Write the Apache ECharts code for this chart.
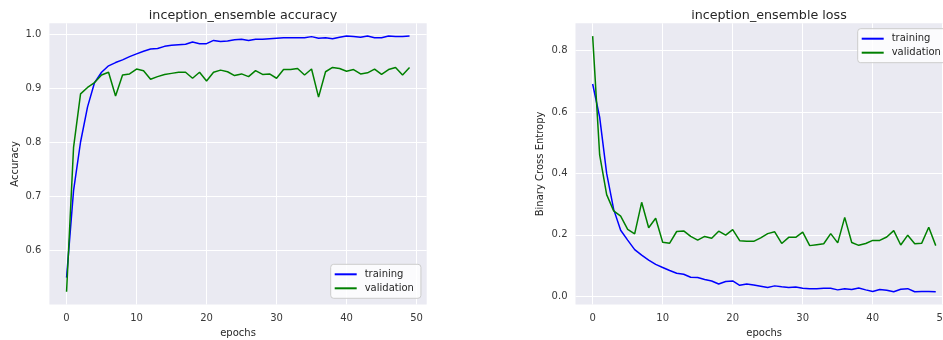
<!DOCTYPE html>
<html>
<head>
<meta charset="utf-8">
<script src="https://cdn.jsdelivr.net/npm/echarts@6/dist/echarts.min.js"></script>
<style>
  html, body { margin: 0; padding: 0; background: #ffffff; }
  #chart { width: 943px; height: 340px; }
</style>
</head>
<body>
<div id="chart"></div>
<script>
// Per-epoch training history of the inception ensemble model
const accTraining = [
  0.549, 0.71, 0.80, 0.865, 0.910, 0.929, 0.941, 0.947, 0.952, 0.958,
  0.963, 0.968, 0.972, 0.973, 0.977, 0.979, 0.980, 0.981, 0.985, 0.982,
  0.982, 0.988, 0.986, 0.987, 0.989, 0.990, 0.988, 0.990, 0.990, 0.991,
  0.992, 0.993, 0.993, 0.993, 0.993, 0.995, 0.992, 0.993, 0.991, 0.994,
  0.996, 0.995, 0.994, 0.996, 0.993, 0.993, 0.996, 0.995, 0.995, 0.996
];
const accValidation = [
  0.523, 0.79, 0.889, 0.901, 0.910, 0.924, 0.929, 0.885, 0.924, 0.926,
  0.935, 0.932, 0.916, 0.921, 0.925, 0.927, 0.929, 0.929, 0.918, 0.929,
  0.913, 0.929, 0.933, 0.930, 0.923, 0.926, 0.921, 0.932, 0.925, 0.926,
  0.918, 0.934, 0.934, 0.936, 0.924, 0.935, 0.883, 0.930, 0.938, 0.936,
  0.931, 0.934, 0.926, 0.928, 0.935, 0.925, 0.934, 0.938, 0.924, 0.938
];
const lossTraining = [
  0.691, 0.583, 0.40, 0.283, 0.215, 0.183, 0.152, 0.134, 0.118, 0.104,
  0.094, 0.084, 0.075, 0.072, 0.062, 0.061, 0.055, 0.050, 0.040, 0.048,
  0.050, 0.036, 0.040, 0.037, 0.033, 0.029, 0.034, 0.031, 0.029, 0.030,
  0.026, 0.025, 0.025, 0.026, 0.026, 0.021, 0.025, 0.022, 0.027, 0.021,
  0.016, 0.022, 0.020, 0.015, 0.023, 0.025, 0.015, 0.016, 0.016, 0.015
];
const lossValidation = [
  0.847, 0.46, 0.331, 0.278, 0.261, 0.218, 0.203, 0.306, 0.223, 0.254,
  0.176, 0.173, 0.211, 0.213, 0.195, 0.183, 0.195, 0.189, 0.212, 0.199,
  0.217, 0.181, 0.179, 0.179, 0.190, 0.204, 0.210, 0.172, 0.192, 0.192,
  0.209, 0.165, 0.168, 0.171, 0.204, 0.174, 0.257, 0.175, 0.166, 0.172,
  0.182, 0.182, 0.193, 0.214, 0.167, 0.199, 0.171, 0.173, 0.225, 0.165
];
const xTicks = [0, 10, 20, 30, 40, 50];
const accTicks = [0.6, 0.7, 0.8, 0.9, 1.0];
const lossTicks = [0.0, 0.2, 0.4, 0.6, 0.8];
const seriesNames = ['training', 'validation'];
const titles = ['inception_ensemble accuracy', 'inception_ensemble loss'];
const yNames = ['Accuracy', 'Binary Cross Entropy'];
const xName = 'epochs';

const FONT = 'DejaVu Sans';
const TEXT = '#262626';
const TICK_TEXT = '#3a3a3a';

// padded extent: data range plus 5% on each side
function padded(arrays) {
  const all = [].concat(...arrays);
  const lo = Math.min(...all), hi = Math.max(...all);
  const m = (hi - lo) * 0.05;
  return [lo - m, hi + m];
}
const nEpochs = accTraining.length;
const xExt = [-(nEpochs - 1) * 0.05, (nEpochs - 1) * 1.05];
const accExt = padded([accTraining, accValidation]);
const lossExt = padded([lossTraining, lossValidation]);

const toPairs = arr => arr.map((v, i) => [i, v]);

// the right panel runs past the page edge, so the grids keep their exact size
const grids = [
  { left: 49.4, top: 23.3, width: 377.3, height: 281.2 },
  { left: 575.5, top: 23.3, width: 377.4, height: 281.2 }
];

function xAxisFor(idx) {
  return {
    type: 'value', gridIndex: idx,
    min: xExt[0], max: xExt[1],
    name: xName, nameLocation: 'middle', nameGap: 22,
    nameTextStyle: { fontFamily: FONT, fontSize: 10, color: TEXT },
    axisLine: { show: false },
    axisTick: { show: false, customValues: xTicks },
    axisLabel: {
      customValues: xTicks, margin: 9,
      fontFamily: FONT, fontSize: 10, color: TICK_TEXT,
      formatter: v => String(Math.round(v))
    },
    splitLine: { show: true, lineStyle: { color: '#ffffff', width: 1 } }
  };
}
function yAxisFor(idx, ext, ticks, name, gap) {
  return {
    type: 'value', gridIndex: idx,
    min: ext[0], max: ext[1],
    name: name, nameLocation: 'middle', nameGap: gap,
    nameTextStyle: { fontFamily: FONT, fontSize: 10, color: TEXT },
    axisLine: { show: false },
    axisTick: { show: false, customValues: ticks },
    axisLabel: {
      customValues: ticks, margin: 8,
      fontFamily: FONT, fontSize: 10, color: TICK_TEXT,
      formatter: v => v.toFixed(1)
    },
    splitLine: { show: true, lineStyle: { color: '#ffffff', width: 1 } }
  };
}
function lineSeries(name, data, color, idx) {
  return {
    type: 'line', name: name, xAxisIndex: idx, yAxisIndex: idx,
    data: toPairs(data), showSymbol: false, symbol: 'none',
    lineStyle: { color: color, width: 1.5 }, itemStyle: { color: color },
    animation: false
  };
}
function legendAt(pos) {
  return Object.assign({
    orient: 'vertical', data: seriesNames,
    icon: 'rect', itemWidth: 22, itemHeight: 2, itemGap: 4,
    padding: [5, 7, 5, 4],
    backgroundColor: 'rgba(255,255,255,0.8)',
    borderColor: '#cccccc', borderWidth: 1, borderRadius: 3,
    textStyle: { fontFamily: FONT, fontSize: 10, color: TEXT, padding: [0, 0, 0, 3] },
    selectedMode: false
  }, pos);
}

const chart = echarts.init(document.getElementById('chart'), null, { renderer: 'canvas' });
chart.setOption({
  backgroundColor: '#ffffff',
  animation: false,
  title: [
    { text: titles[0], left: 238, top: 4, textAlign: 'center',
      textStyle: { fontFamily: FONT, fontSize: 12.7, fontWeight: 'normal', color: TEXT } },
    { text: titles[1], left: 764, top: 4, textAlign: 'center',
      textStyle: { fontFamily: FONT, fontSize: 12.7, fontWeight: 'normal', color: TEXT } }
  ],
  legend: [
    legendAt({ left: 330.7, top: 264.3 }),
    legendAt({ left: 857.7, top: 28.7 })
  ],
  grid: grids.map(g => Object.assign({
    show: true, backgroundColor: '#eaeaf2', borderWidth: 0,
    containLabel: false, outerBoundsMode: 'none'
  }, g)),
  xAxis: [xAxisFor(0), xAxisFor(1)],
  yAxis: [
    yAxisFor(0, accExt, accTicks, yNames[0], 29),
    yAxisFor(1, lossExt, lossTicks, yNames[1], 30)
  ],
  series: [
    lineSeries(seriesNames[0], accTraining, '#0000ff', 0),
    lineSeries(seriesNames[1], accValidation, '#008000', 0),
    lineSeries(seriesNames[0], lossTraining, '#0000ff', 1),
    lineSeries(seriesNames[1], lossValidation, '#008000', 1)
  ]
});
</script>
</body>
</html>
